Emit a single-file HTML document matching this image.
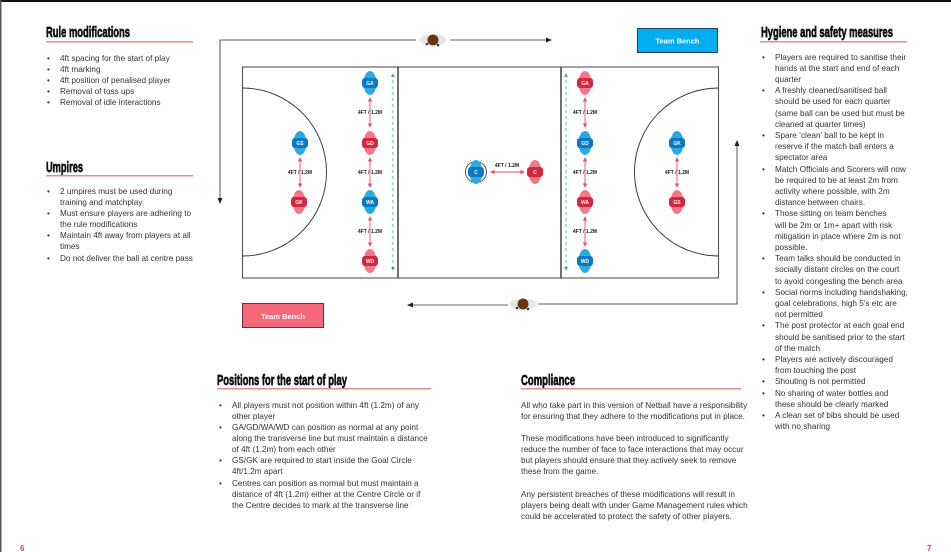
<!DOCTYPE html>
<html><head><meta charset="utf-8"><style>
html,body{margin:0;padding:0;background:#fff;}
svg{display:block}
.t{font-family:"Liberation Sans",sans-serif;font-size:8.2px;fill:#333;}
.h{font-family:"Liberation Sans Narrow","Liberation Sans",sans-serif;font-weight:bold;font-size:15px;fill:#111;stroke:#111;stroke-width:0.7px;}
.l{font-family:"Liberation Sans",sans-serif;font-size:5px;font-weight:bold;fill:#222}
.p{font-family:"Liberation Sans",sans-serif;font-size:5px;font-weight:bold;fill:#fff}
</style></head><body>
<svg width="951" height="552" viewBox="0 0 951 552" xmlns="http://www.w3.org/2000/svg">
<defs>
<marker id="ab" markerWidth="6" markerHeight="6" refX="5" refY="3" orient="auto"><path d="M0,0.5 L6,3 L0,5.5z" fill="#222"/></marker>
<marker id="ap" markerWidth="5" markerHeight="5" refX="4" refY="2.5" orient="auto-start-reverse"><path d="M0,0 L5,2.5 L0,5z" fill="#ee4d6a"/></marker>
<marker id="ag" markerWidth="5" markerHeight="5" refX="4" refY="2.5" orient="auto-start-reverse"><path d="M0,0 L5,2.5 L0,5z" fill="#3bb54a"/></marker>
<g id="pb"><ellipse cx="0" cy="0" rx="6.5" ry="12" fill="#29abe2"/><rect x="-8" y="-5" width="16" height="10" rx="3" fill="#0a78c2"/></g>
<g id="pr"><ellipse cx="0" cy="0" rx="6.5" ry="12" fill="#f5788a"/><rect x="-8" y="-5" width="16" height="10" rx="3" fill="#d6263d"/></g>
<g id="ball"><ellipse cx="-6" cy="0" rx="7" ry="5" fill="#e6e6e6"/><ellipse cx="6" cy="0" rx="7" ry="5" fill="#e6e6e6"/><circle cx="0" cy="0" r="5.5" fill="#6b3410"/><circle cx="-6" cy="4" r="1.3" fill="#334"/><circle cx="5" cy="5" r="1.3" fill="#334"/></g>
</defs>
<rect x="0" y="0" width="951" height="2" fill="#111"/>
<rect x="0" y="0" width="1.5" height="552" fill="#555"/>

<text class="h" x="46" y="37" textLength="84" lengthAdjust="spacingAndGlyphs">Rule modifications</text>
<rect x="46" y="41" width="147" height="1.5" fill="#e8898f"/>
<g class="t">
<text x="47" y="61">•</text><text x="60" y="61">4ft spacing for the start of play</text>
<text x="47" y="72">•</text><text x="60" y="72">4ft marking</text>
<text x="47" y="83">•</text><text x="60" y="83">4ft position of penalised player</text>
<text x="47" y="94">•</text><text x="60" y="94">Removal of toss ups</text>
<text x="47" y="105">•</text><text x="60" y="105">Removal of idle interactions</text>
</g>
<text class="h" x="46" y="172" textLength="37" lengthAdjust="spacingAndGlyphs">Umpires</text>
<rect x="46" y="175" width="147" height="1.5" fill="#e8898f"/>
<g class="t">
<text x="47" y="194">•</text><text x="60" y="194">2 umpires must be used during</text>
<text x="60" y="205">training and matchplay</text>
<text x="47" y="216">•</text><text x="60" y="216">Must ensure players are adhering to</text>
<text x="60" y="227">the rule modifications</text>
<text x="47" y="238">•</text><text x="60" y="238">Maintain 4ft away from players at all</text>
<text x="60" y="249">times</text>
<text x="47" y="261">•</text><text x="60" y="261">Do not deliver the ball at centre pass</text>
</g>

<polyline points="416,40 220,40 220,203" fill="none" stroke="#555" stroke-width="1" marker-end="url(#ab)"/>
<line x1="450" y1="40" x2="551" y2="40" stroke="#666" stroke-width="1" marker-end="url(#ab)"/>
<use href="#ball" x="433" y="40"/>
<polyline points="737,143 737,304 538,304" fill="none" stroke="#555" stroke-width="1"/>
<line x1="737" y1="160" x2="737" y2="141" stroke="#555" stroke-width="1" marker-end="url(#ab)"/>
<line x1="508" y1="305" x2="408" y2="305" stroke="#666" stroke-width="1" marker-end="url(#ab)"/>
<use href="#ball" x="523" y="304"/>

<rect x="637.5" y="28.5" width="80" height="24" fill="#00aeef" stroke="#1c3f6e" stroke-width="1"/>
<text x="677.5" y="43.5" text-anchor="middle" style="font-family:'Liberation Sans',sans-serif;font-size:7.5px;font-weight:bold;fill:#fff">Team Bench</text>
<rect x="242.5" y="303.5" width="81" height="24" fill="#f4687c" stroke="#7a2a35" stroke-width="1"/>
<text x="283" y="319" text-anchor="middle" style="font-family:'Liberation Sans',sans-serif;font-size:7.5px;font-weight:bold;fill:#fff">Team Bench</text>

<rect x="242.5" y="67" width="476" height="211" fill="#fff" stroke="#555" stroke-width="1.1"/>
<line x1="398" y1="67" x2="398" y2="278" stroke="#333" stroke-width="1.4"/>
<line x1="561" y1="67" x2="561" y2="278" stroke="#333" stroke-width="1.4"/>
<path d="M242.5,88 A84,84 0 0 1 242.5,256" fill="none" stroke="#333" stroke-width="0.9"/>
<path d="M718.5,88 A84,84 0 0 0 718.5,256" fill="none" stroke="#333" stroke-width="0.9"/>
<line x1="393" y1="74" x2="393" y2="270" stroke="#3bb54a" stroke-width="0.8" stroke-dasharray="3,3" marker-start="url(#ag)" marker-end="url(#ag)"/>
<line x1="566" y1="74" x2="566" y2="270" stroke="#3bb54a" stroke-width="0.8" stroke-dasharray="3,3" marker-start="url(#ag)" marker-end="url(#ag)"/>

<g stroke="#ee4d6a" stroke-width="0.9" marker-start="url(#ap)" marker-end="url(#ap)">
<line x1="370" y1="98" x2="370" y2="127"/><line x1="370" y1="158" x2="370" y2="187"/><line x1="370" y1="217" x2="370" y2="246"/>
<line x1="585" y1="98" x2="585" y2="127"/><line x1="585" y1="158" x2="585" y2="187"/><line x1="585" y1="217" x2="585" y2="246"/>
<line x1="300" y1="158" x2="300" y2="187"/><line x1="677" y1="158" x2="677" y2="187"/>
<line x1="491" y1="172" x2="524" y2="172"/>
</g>
<g class="l" text-anchor="middle">
<text x="370" y="114">4FT / 1.2M</text><text x="370" y="174">4FT / 1.2M</text><text x="370" y="233">4FT / 1.2M</text>
<text x="585" y="114">4FT / 1.2M</text><text x="585" y="174">4FT / 1.2M</text><text x="585" y="233">4FT / 1.2M</text>
<text x="300" y="174">4FT / 1.2M</text><text x="677" y="174">4FT / 1.2M</text>
<text x="507" y="167">4FT / 1.2M</text>
</g>

<circle cx="476" cy="172" r="10.5" fill="none" stroke="#333" stroke-width="0.8"/>
<use href="#pb" x="370" y="83"/><use href="#pr" x="370" y="143"/><use href="#pb" x="370" y="202"/><use href="#pr" x="370" y="261"/>
<use href="#pb" x="300" y="143"/><use href="#pr" x="299" y="202"/>
<use href="#pr" x="585" y="83"/><use href="#pb" x="585" y="143"/><use href="#pr" x="585" y="202"/><use href="#pb" x="585" y="261"/>
<use href="#pb" x="677" y="143"/><use href="#pr" x="677" y="202"/>
<use href="#pb" x="476" y="172"/><use href="#pr" x="535" y="172"/>
<g class="p" text-anchor="middle">
<text x="370" y="85">GA</text><text x="370" y="145">GD</text><text x="370" y="204">WA</text><text x="370" y="263">WD</text>
<text x="300" y="145">GS</text><text x="299" y="204">GK</text>
<text x="585" y="85">GA</text><text x="585" y="145">GD</text><text x="585" y="204">WA</text><text x="585" y="263">WD</text>
<text x="677" y="145">GK</text><text x="677" y="204">GS</text>
<text x="476" y="174">C</text><text x="535" y="174">C</text>
</g>

<text class="h" x="761" y="37" textLength="132" lengthAdjust="spacingAndGlyphs">Hygiene and safety measures</text>
<rect x="760" y="41" width="147" height="1.5" fill="#e8898f"/>
<g class="t">
<text x="762" y="60">•</text><text x="775" y="60">Players are required to sanitise their</text>
<text x="775" y="71">hands at the start and end of each</text>
<text x="775" y="82">quarter</text>
<text x="762" y="93">•</text><text x="775" y="93">A freshly cleaned/sanitised ball</text>
<text x="775" y="104">should be used for each quarter</text>
<text x="775" y="116">(same ball can be used but must be</text>
<text x="775" y="127">cleaned at quarter times)</text>
<text x="762" y="138">•</text><text x="775" y="138">Spare ‘clean’ ball to be kept in</text>
<text x="775" y="149">reserve if the match ball enters a</text>
<text x="775" y="160">spectator area</text>
<text x="762" y="172">•</text><text x="775" y="172">Match Officials and Scorers will now</text>
<text x="775" y="183">be required to be at least 2m from</text>
<text x="775" y="194">activity where possible, with 2m</text>
<text x="775" y="205">distance between chairs.</text>
<text x="762" y="216">•</text><text x="775" y="216">Those sitting on team benches</text>
<text x="775" y="228">will be 2m or 1m+ apart with risk</text>
<text x="775" y="239">mitigation in place where 2m is not</text>
<text x="775" y="250">possible.</text>
<text x="762" y="261">•</text><text x="775" y="261">Team talks should be conducted in</text>
<text x="775" y="272">socially distant circles on the court</text>
<text x="775" y="284">to avoid congesting the bench area</text>
<text x="762" y="295">•</text><text x="775" y="295">Social norms including handshaking,</text>
<text x="775" y="306">goal celebrations, high 5’s etc are</text>
<text x="775" y="317">not permitted</text>
<text x="762" y="328">•</text><text x="775" y="328">The post protector at each goal end</text>
<text x="775" y="340">should be sanitised prior to the start</text>
<text x="775" y="351">of the match</text>
<text x="762" y="362">•</text><text x="775" y="362">Players are actively discouraged</text>
<text x="775" y="373">from touching the post</text>
<text x="762" y="384">•</text><text x="775" y="384">Shouting is not permitted</text>
<text x="762" y="396">•</text><text x="775" y="396">No sharing of water bottles and</text>
<text x="775" y="407">these should be clearly marked</text>
<text x="762" y="418">•</text><text x="775" y="418">A clean set of bibs should be used</text>
<text x="775" y="429">with no sharing</text>
</g>

<text class="h" x="217" y="385" textLength="130" lengthAdjust="spacingAndGlyphs">Positions for the start of play</text>
<rect x="217" y="388" width="214" height="1.5" fill="#e8898f"/>
<g class="t">
<text x="219" y="408">•</text><text x="232" y="408">All players must not position within 4ft (1.2m) of any</text>
<text x="232" y="419">other player</text>
<text x="219" y="430">•</text><text x="232" y="430">GA/GD/WA/WD can position as normal at any point</text>
<text x="232" y="441">along the transverse line but must maintain a distance</text>
<text x="232" y="452">of 4ft (1.2m) from each other</text>
<text x="219" y="463">•</text><text x="232" y="463">GS/GK are required to start inside the Goal Circle</text>
<text x="232" y="474">4ft/1.2m apart</text>
<text x="219" y="486">•</text><text x="232" y="486">Centres can position as normal but must maintain a</text>
<text x="232" y="497">distance of 4ft (1.2m) either at the Centre Circle or if</text>
<text x="232" y="508">the Centre decides to mark at the transverse line</text>
</g>

<text class="h" x="521" y="385" textLength="54" lengthAdjust="spacingAndGlyphs">Compliance</text>
<rect x="521" y="388" width="220" height="1.5" fill="#e8898f"/>
<g class="t">
<text x="521" y="408">All who take part in this version of Netball have a responsibility</text>
<text x="521" y="419">for ensuring that they adhere to the modifications put in place.</text>
<text x="521" y="441">These modifications have been introduced to significantly</text>
<text x="521" y="452">reduce the number of face to face interactions that may occur</text>
<text x="521" y="463">but players should ensure that they actively seek to remove</text>
<text x="521" y="474">these from the game.</text>
<text x="521" y="497">Any persistent breaches of these modifications will result in</text>
<text x="521" y="508">players being dealt with under Game Management rules which</text>
<text x="521" y="519">could be accelerated to protect the safety of other players.</text>
</g>

<text x="20" y="551" style="font-family:'Liberation Sans',sans-serif;font-size:8px;font-weight:bold;fill:#ee3b5b">6</text>
<text x="927" y="551" style="font-family:'Liberation Sans',sans-serif;font-size:8px;font-weight:bold;fill:#ee3b5b">7</text>
</svg>
</body></html>
